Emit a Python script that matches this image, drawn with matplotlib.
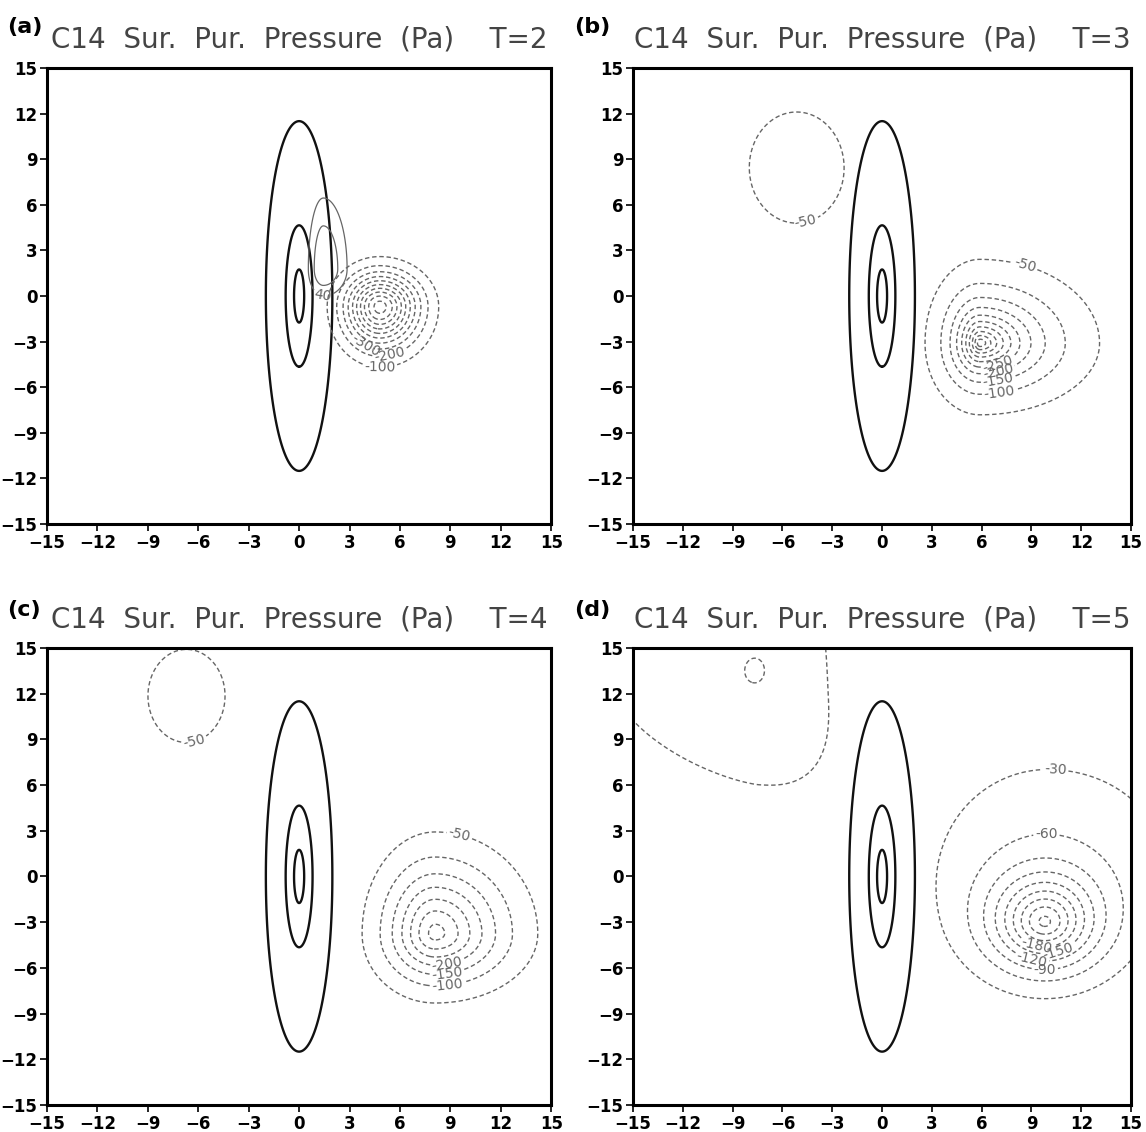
import numpy as np
import matplotlib.pyplot as plt

plt.rcParams['lines.dashed_pattern'] = [3.2, 2.0]
plt.rcParams['lines.scale_dashes'] = False

# panel letters and model times
letters = ['(a)', '(b)', '(c)', '(d)']
times = [2, 3, 4, 5]

# terrain: elliptic mountain, contour radii along y and x/y aspect
terrain_radii = [1.75, 4.65, 11.5]
terrain_aspect = 0.172

# pressure blobs: (amp, cx, cy, L_west, L_east, L_south, L_north, shape[, qw, qe])
blobs_a = [(-1050, 4.8, -0.7, 1.92, 2.15, 2.45, 2.02, 1.75),
           (120, 1.44, 1.78, 0.85, 1.35, 1.7, 4.45, 2.0)]
blobs_b = [(-560, 5.9, -3.1, 1.37, 2.98, 1.95, 2.28, 1.0),
           (-75, -5.15, 8.45, 4.47, 4.47, 5.73, 5.73, 2.0)]
blobs_c = [(-370, 8.1, -3.75, 2.74, 3.84, 2.87, 4.2, 1.5),
           (-75, -6.7, 11.85, 3.6, 3.6, 4.8, 4.8, 2.0)]
blobs_d = [(-248, 9.8, -3.0, 3.0, 2.95, 2.75, 2.95, 1.5),
           (-45, 10.0, 1.5, 8.5, 10.0, 7.5, 8.5, 2.0),
           (-45, -7.4, 12.0, 13.45, 6.3, 9.2, 16.0, 2.0, 1.5, 2.6),
           (-18, -7.7, 13.6, 1.55, 1.55, 2.1, 2.1, 2.0)]

neg_a = [-1000, -900, -800, -700, -600, -500, -400, -300, -200, -100]
pos_a = [40, 80]
neg_b = [-500, -450, -400, -350, -300, -250, -200, -150, -100, -50]
neg_c = [-350, -300, -250, -200, -150, -100, -50]
neg_d = [-270, -240, -210, -180, -150, -120, -90, -60, -30]

# contour label spots (x, y), negative and positive contours
labels_a = [(4.8, -4.7), (5.4, -3.95), (4.0, -3.2)]
plabels_a = [(1.4, 0.0)]
labels_b = [(-4.6, 4.9), (8.7, 2.4), (7.1, -6.6), (7.1, -6.1), (7.1, -5.5), (7.1, -4.9)]
labels_c = [(-6.2, 8.7), (9.6, 3.0), (8.8, -7.0), (8.8, -6.3), (8.8, -5.65)]
labels_d = [(10.45, 7.3), (9.9, 2.9), (9.8, -6.3), (9.0, -5.5), (10.6, -5.0), (9.3, -4.6)]

panels = [(blobs_a, neg_a, pos_a, labels_a, plabels_a),
          (blobs_b, neg_b, [], labels_b, []),
          (blobs_c, neg_c, [], labels_c, []),
          (blobs_d, neg_d, [], labels_d, [])]

grid = np.linspace(-15, 15, 601)
X, Y = np.meshgrid(grid, grid)


def blob(amp, cx, cy, lw, le, ls, ln, p, qw=2.0, qe=2.0):
    dx = X - cx
    dy = Y - cy
    lx = np.where(dx < 0, lw, le)
    ly = np.where(dy < 0, ls, ln)
    q = np.where(dx < 0, qw, qe)
    d = (np.abs(dx / lx) ** q + np.abs(dy / ly) ** q) ** (1.0 / q)
    return amp * np.exp(-d ** p)


fig = plt.figure(figsize=(11.46, 11.32), dpi=100)
boxes = [[0.041, 0.537, 0.440, 0.403], [0.5524, 0.537, 0.4346, 0.403],
         [0.041, 0.0239, 0.440, 0.4037], [0.5524, 0.0239, 0.4346, 0.4037]]
letter_xy = [(0.006, 0.985), (0.501, 0.985), (0.006, 0.470), (0.501, 0.470)]

terrain = np.hypot(X / terrain_aspect, Y)
ticks = [-15, -12, -9, -6, -3, 0, 3, 6, 9, 12, 15]
tick_font = ['Liberation Sans Narrow', 'DejaVu Sans']

for i, (blobs, neg, pos, labs, plabs) in enumerate(panels):
    ax = fig.add_axes(boxes[i])
    Pn = sum(blob(*b) for b in blobs if b[0] < 0)

    ax.contour(X, Y, terrain, levels=terrain_radii, colors='#111111', linewidths=1.7)
    cn = ax.contour(X, Y, Pn, levels=neg, colors='#666666', linewidths=1.0,
                    linestyles='dashed')
    ax.clabel(cn, manual=labs, inline=True, fontsize=10, fmt='%d', inline_spacing=2)
    if pos:
        Pp = sum(blob(*b) for b in blobs if b[0] > 0)
        cp = ax.contour(X, Y, Pp, levels=pos, colors='#666666', linewidths=0.9,
                        linestyles='solid')
        ax.clabel(cp, manual=plabs, inline=True, fontsize=10, fmt='%d',
                  inline_spacing=2)

    ax.set_xlim(-15, 15)
    ax.set_ylim(-15, 15)
    ax.set_xticks(ticks)
    ax.set_yticks(ticks)
    ax.tick_params(direction='out', length=5, width=1.2, top=False, right=False, pad=2)
    for lab in ax.get_xticklabels() + ax.get_yticklabels():
        lab.set_fontfamily(tick_font)
        lab.set_fontweight('bold')
        lab.set_fontsize(12)
    for sp in ax.spines.values():
        sp.set_linewidth(2.2)
    ax.set_title('C14  Sur.  Pur.  Pressure  (Pa)    T=%d' % times[i], fontsize=20,
                 color='#444444', pad=15, family='DejaVu Sans')
    fig.text(letter_xy[i][0], letter_xy[i][1], letters[i], fontsize=16,
             fontweight='bold', family='DejaVu Sans', va='top')

fig.savefig('out.png', dpi=100)
